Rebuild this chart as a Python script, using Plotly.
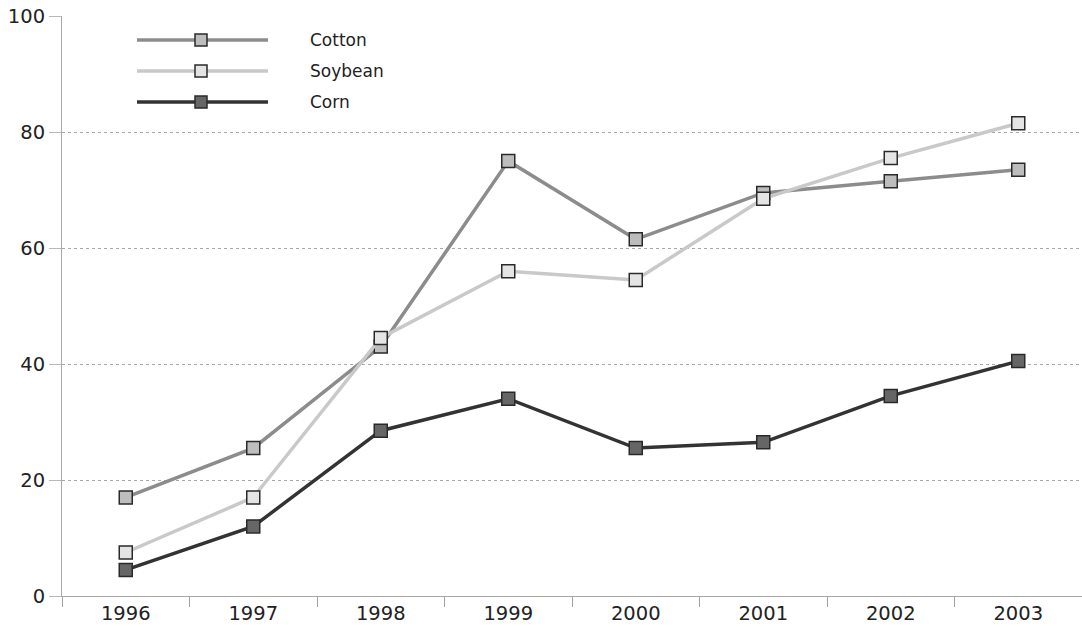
import plotly.graph_objects as go

years = ["1996", "1997", "1998", "1999", "2000", "2001", "2002", "2003"]
cotton = [17, 25.5, 43, 75, 61.5, 69.5, 71.5, 73.5]
soybean = [7.5, 17, 44.5, 56, 54.5, 68.5, 75.5, 81.5]
corn = [4.5, 12, 28.5, 34, 25.5, 26.5, 34.5, 40.5]
y_ticks = [0, 20, 40, 60, 80, 100]

series = [
    ("Cotton", cotton, "#8c8c8c", "#bdbdbd"),
    ("Soybean", soybean, "#c9c9c9", "#e4e4e4"),
    ("Corn", corn, "#333333", "#666666"),
]

fig = go.Figure()
for name, vals, line_col, fill_col in series:
    fig.add_trace(go.Scatter(
        x=years, y=vals, name=name, mode="lines+markers",
        line=dict(color=line_col, width=3.5),
        marker=dict(symbol="square", size=13, color=fill_col,
                    line=dict(color="#2a2a2a", width=1.5)),
        showlegend=False,
    ))

# hand-drawn legend block in the upper-left corner (pixel-based paper coords)
W, H = 1082, 627
L, T, B = 62, 16, 31
pw, ph = W - L, H - T - B


def px(x):
    return (x - L) / pw


def py(y):
    return 1 - (y - T) / ph


shapes = []
annotations = []
for i, (name, vals, line_col, fill_col) in enumerate(series):
    yy = 40 + 31 * i
    shapes.append(dict(type="line", xref="paper", yref="paper",
                       x0=px(137), x1=px(268), y0=py(yy), y1=py(yy),
                       line=dict(color=line_col, width=3.5)))
    shapes.append(dict(type="rect", xref="paper", yref="paper",
                       x0=px(195), x1=px(207), y0=py(yy + 6), y1=py(yy - 6),
                       fillcolor=fill_col, line=dict(color="#2a2a2a", width=1.5)))
    annotations.append(dict(text=name, xref="paper", yref="paper",
                            x=px(308), y=py(yy), xanchor="left", yanchor="middle",
                            showarrow=False,
                            font=dict(size=17, color="#222222")))

fig.update_layout(
    width=W, height=H,
    margin=dict(l=L, r=0, t=T, b=B),
    paper_bgcolor="white", plot_bgcolor="white",
    font=dict(family="DejaVu Sans, Verdana, sans-serif", size=19, color="#222222"),
    shapes=shapes, annotations=annotations,
    xaxis=dict(
        type="category", range=[-0.5, 7.5], tickson="boundaries",
        ticks="outside", ticklen=10, tickcolor="#a0a0a0", tickwidth=1,
        showgrid=False, showline=True, linecolor="#a8a8a8", linewidth=1,
        zeroline=False, tickfont=dict(size=19.5),
    ),
    yaxis=dict(
        range=[0, 100], tickvals=y_ticks, ticks="outside", ticklen=12,
        tickcolor="#b8b8b8", showgrid=True, gridcolor="#a8a8a8", griddash="dot",
        gridwidth=1, showline=True, linecolor="#a8a8a8", linewidth=1,
        zeroline=False, tickfont=dict(size=19.5),
    ),
)

fig.write_html("out.html")
